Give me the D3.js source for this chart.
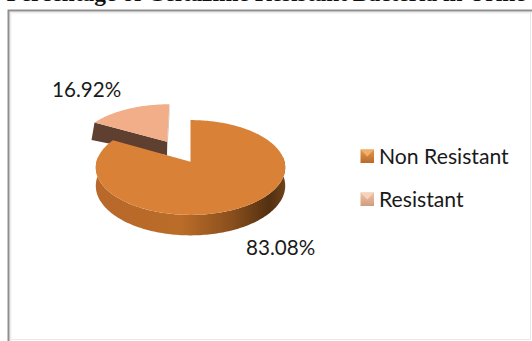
<!DOCTYPE html>
<html>
<head>
<meta charset="utf-8">
<script src="https://cdnjs.cloudflare.com/ajax/libs/d3/7.8.5/d3.min.js"></script>
<style>
html,body{margin:0;padding:0;background:#fff;overflow:hidden}
svg{display:block}
text{font-family:Lato,"Open Sans",sans-serif;fill:#1a1a1a}
</style>
</head>
<body>
<svg id="chart" width="532" height="341"></svg>
<script>
const chartTitle = "Percentage of Ceftazime Resistant Bacteria in Urine";
const categories = ["Non Resistant", "Resistant"];
const shares = [83.08, 16.92];
const shareLabels = ["83.08%", "16.92%"];
const topColors = ["#d98237", "#f2ae88"];

const svg = d3.select("#chart");
const W = 532, H = 341;
const cx = 190.5, cy = 161.7, rx = 94, ry = 46.7, tilt = 0.122, depth = 18, explode = 0.52;

// Ground-plane to screen projection: points nearer the viewer are drawn larger.
const rScaleX = d3.scaleLinear().domain([-1, 1]).range([-rx, rx]);
const rScaleY = d3.scaleLinear().domain([-1, 1]).range([-ry, ry]);
function project(u, v, drop) {
  const s = 1 / (1 - tilt * v);
  return [cx + rScaleX(u) * s, cy + rScaleY(v) * s + (drop || 0) * s];
}

const pieLayout = d3.pie().sort(null).value(d => d);
const slices = pieLayout(shares);
const line = d3.line();

function rimAngles(a0, a1) {
  const n = Math.max(2, Math.ceil((a1 - a0) / 0.02));
  return d3.range(n + 1).map(i => a0 + (a1 - a0) * i / n);
}
function offsetOf(i, slice) {
  if (i === 0) return [0, 0];
  const mid = (slice.startAngle + slice.endAngle) / 2;
  return [Math.sin(mid) * explode, -Math.cos(mid) * explode];
}
function rimPoint(a, off, drop) {
  return project(Math.sin(a) + off[0], -Math.cos(a) + off[1], drop);
}
function topShape(slice, off) {
  const pts = [project(off[0], off[1], 0)];
  rimAngles(slice.startAngle, slice.endAngle).forEach(a => pts.push(rimPoint(a, off, 0)));
  return line(pts) + "Z";
}
function wallShape(pts0, pts1) {
  return line(pts0.concat(pts1.slice().reverse())) + "Z";
}

const defs = svg.append("defs");
const wallGrad = defs.append("linearGradient").attr("id", "wallGrad")
  .attr("gradientUnits", "userSpaceOnUse")
  .attr("x1", cx - rx).attr("x2", cx + rx).attr("y1", 0).attr("y2", 0);
[[0, "#b8682a"], [0.45, "#ba6c28"], [0.72, "#8a4f1d"], [0.92, "#533011"], [1, "#6d421a"]]
  .forEach(([o, c]) => wallGrad.append("stop").attr("offset", o).attr("stop-color", c));

function swatchGradient(id, light, dark) {
  const g = defs.append("linearGradient").attr("id", id).attr("x1", 0).attr("x2", 0).attr("y1", 0).attr("y2", 1);
  g.append("stop").attr("offset", 0).attr("stop-color", light);
  g.append("stop").attr("offset", 1).attr("stop-color", dark);
}
swatchGradient("swatch0", "#e39a4f", "#b9692a");
swatchGradient("swatch1", "#f3c3a5", "#cf9c80");

// Chart frame: heavy top and left edges, faint right and bottom edges
const frame = svg.append("g").attr("fill", "none");
frame.append("path").attr("d", line([[W - 1.5, 10], [W - 1.5, H - 1.5], [8, H - 1.5]]))
  .attr("stroke", "#e8e8e8").attr("stroke-width", 1);
frame.append("path").attr("d", line([[10.5, H], [10.5, 12.5], [W, 12.5]]))
  .attr("stroke", "#eeeeee").attr("stroke-width", 2);
frame.append("path").attr("d", line([[8.5, H], [8.5, 10.5], [W, 10.5]]))
  .attr("stroke", "#8f8f8f").attr("stroke-width", 2);

// Title, running off the top edge
svg.append("text").text(chartTitle)
  .attr("x", 266).attr("y", 1).attr("text-anchor", "middle")
  .style("font-family", '"Liberation Serif",serif').style("font-weight", "bold")
  .style("font-size", "23.4px").style("fill", "#111");

// Detached slice: cut faces first, then the top
const s1 = slices[1], off1 = offsetOf(1, s1);
const tipTop = rimPoint(s1.startAngle, off1, 0);
const tipBase = rimPoint(s1.startAngle, off1, depth * 1.08);
tipBase[0] -= 3;
const apexTop = project(off1[0], off1[1], 0), apexBase = project(off1[0], off1[1], depth * 0.78);
const outerTop = rimPoint(s1.endAngle, off1, 0), outerBase = rimPoint(s1.endAngle, off1, depth * 0.78);
svg.append("path").attr("d", wallShape([apexTop, outerTop], [apexBase, outerBase])).attr("fill", "#c9bdb4");
svg.append("path").attr("d", wallShape([tipTop, apexTop], [tipBase, apexBase])).attr("fill", "#5f4030");
svg.append("path").attr("d", topShape(s1, off1)).attr("fill", topColors[1]);

// Main slice: front rim wall, then the top
const s0 = slices[0], off0 = offsetOf(0, s0);
const front = rimAngles(Math.PI * 0.47, Math.PI * 1.53);
svg.append("path")
  .attr("d", wallShape(front.map(a => rimPoint(a, off0, 0)), front.map(a => rimPoint(a, off0, depth))))
  .attr("fill", "url(#wallGrad)");
svg.append("path").attr("d", topShape(s0, off0)).attr("fill", topColors[0]);

// Data labels
const labelPos = [[246, 255], [52, 97]];
svg.selectAll("text.value").data(shareLabels).join("text").attr("class", "value")
  .text(d => d)
  .attr("x", (d, i) => labelPos[i][0]).attr("y", (d, i) => labelPos[i][1])
  .style("font-size", "20.6px");

// Legend
const legendY = d3.scalePoint().domain(categories).range([156, 199]);
const legend = svg.selectAll("g.legend").data(categories).join("g").attr("class", "legend")
  .attr("transform", d => `translate(360,${legendY(d)})`);
legend.append("rect").attr("x", 0.5).attr("y", -6.5).attr("width", 13.5).attr("height", 13.5)
  .attr("fill", (d, i) => `url(#swatch${i})`);
legend.append("path").attr("d", line([[0.5, -6.5], [7.25, 0.5], [14, -6.5]]))
  .attr("fill", (d, i) => i ? "#f6d3bc" : "#f0b06a");
legend.append("text").text(d => d).attr("x", 19).attr("y", 7.5)
  .style("font-size", "21.2px");
</script>
</body>
</html>
